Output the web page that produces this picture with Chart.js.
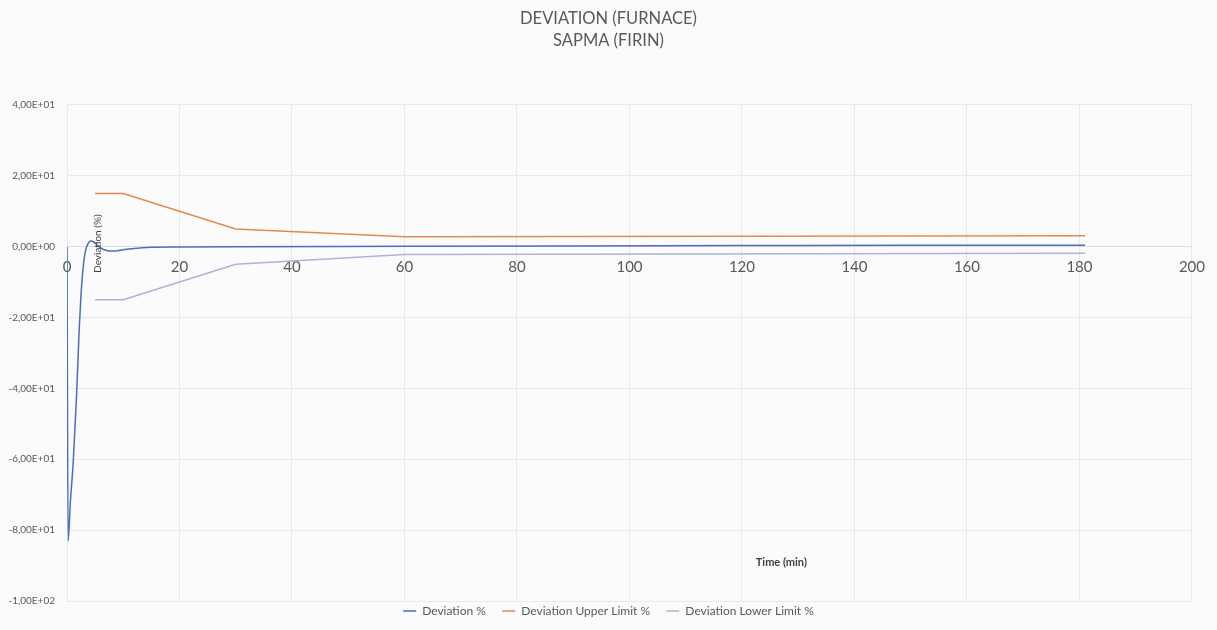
<!DOCTYPE html>
<html>
<head>
<meta charset="utf-8">
<script src="https://cdn.jsdelivr.net/npm/chart.js@4/dist/chart.umd.min.js"></script>
<style>
  html, body { margin: 0; padding: 0; background: #fbfbfc; }
  #wrap { width: 1217px; height: 630px; }
</style>
</head>
<body>
<div id="wrap"><canvas id="myChart" width="1217" height="630"></canvas></div>
<script>
// deviation curve (time in min, deviation in %)
const devTime  = [0, 0.2, 0.6, 1.1, 1.7, 2.1, 2.6, 3.0, 3.4, 3.8, 4.2, 4.8, 5.5, 6.5, 7.5, 8.5, 10, 12, 15, 20, 30, 60, 90, 120, 150, 181];
const devValue = [0, -83, -72, -61, -42, -26, -11, -4, -0.5, 1.0, 1.6, 1.3, 0.2, -0.8, -1.2, -1.2, -0.9, -0.5, -0.2, -0.1, 0, 0.1, 0.2, 0.3, 0.4, 0.4];

// limits
const limitTime  = [5, 10, 30, 60, 181];
const upperLimit = [15, 15, 5, 2.8, 3.1];
const lowerLimit = [-15, -15, -5, -2.2, -1.9];

const seriesNames = ["Deviation %", "Deviation Upper Limit %", "Deviation Lower Limit %"];
const titleLines = ["DEVIATION (FURNACE)", "SAPMA (FIRIN)"];
const yAxisTitle = "Deviation (%)";
const xAxisTitle = "Time (min)";

const FONT = "Lato, 'Open Sans', sans-serif";

function toPoints(xs, ys) {
    return xs.map((x, i) => ({ x: x, y: ys[i] }));
}

// 4,00E+01 style
function sciComma(v) {
    let parts = Number(v).toExponential(2).split("e");
    let m = parts[0].replace(".", ",");
    let e = parseInt(parts[1]);
    let sign = e < 0 ? "-" : "+";
    return m + "E" + sign + String(Math.abs(e)).padStart(2, "0");
}

const bgPlugin = {
    id: "bg",
    beforeDraw(chart) {
        const c = chart.ctx;
        c.save();
        c.fillStyle = "#fbfbfc";
        c.fillRect(0, 0, chart.width, chart.height);
        c.restore();
    }
};

// axis titles sit inside the plot in the original
const axisTitles = {
    id: "axisTitles",
    afterDraw(chart) {
        const c = chart.ctx;
        const xs = chart.scales.x, ys = chart.scales.y;
        c.save();
        c.fillStyle = "#404040";
        c.textAlign = "center";
        c.textBaseline = "middle";

        c.save();
        c.translate(xs.getPixelForValue(5.5), ys.getPixelForValue(0) - 3);
        c.rotate(-Math.PI / 2);
        c.font = "10px " + FONT;
        c.fillText(yAxisTitle, 0, 0);
        c.restore();

        c.font = "bold 11px " + FONT;
        c.fillText(xAxisTitle, xs.getPixelForValue(127), ys.getPixelForValue(-89));
        c.restore();
    }
};

const data = {
    datasets: [
        {
            label: seriesNames[0],
            data: toPoints(devTime, devValue),
            borderColor: "#4a6fbd",
            backgroundColor: "#4a6fbd",
            borderWidth: 1.5,
            pointRadius: 0,
            cubicInterpolationMode: "monotone"
        },
        {
            label: seriesNames[1],
            data: toPoints(limitTime, upperLimit),
            borderColor: "#e3894f",
            backgroundColor: "#e3894f",
            borderWidth: 1.5,
            pointRadius: 0
        },
        {
            label: seriesNames[2],
            data: toPoints(limitTime, lowerLimit),
            borderColor: "#aeb1d8",
            backgroundColor: "#aeb1d8",
            borderWidth: 1.5,
            pointRadius: 0
        }
    ]
};

const config = {
    type: "line",
    data: data,
    plugins: [bgPlugin, axisTitles],
    options: {
        responsive: false,
        animation: false,
        layout: { padding: { top: 0, bottom: 3, left: 0, right: 0 } },
        plugins: {
            title: {
                display: true,
                text: titleLines,
                color: "#595959",
                font: { family: FONT, size: 16.5, weight: "normal", lineHeight: 1.33 },
                padding: { top: 8, bottom: 53 }
            },
            legend: {
                position: "bottom",
                labels: {
                    color: "#595959",
                    font: { family: FONT, size: 12 },
                    usePointStyle: true,
                    pointStyle: "line",
                    pointStyleWidth: 13,
                    padding: 4,
                    generateLabels(chart) {
                        const items = Chart.defaults.plugins.legend.labels.generateLabels(chart);
                        items.forEach((it, i) => {
                            // extra gap between entries, none after the last one
                            if (i < items.length - 1) it.text = it.text + "    ";
                            it.lineWidth = 1.5;
                        });
                        return items;
                    }
                }
            },
            tooltip: { enabled: false }
        },
        scales: {
            x: {
                type: "linear",
                position: { y: 0 },
                min: 0,
                max: 200,
                ticks: {
                    stepSize: 20,
                    color: "#595959",
                    font: { family: FONT, size: 15 },
                    padding: 12,
                    maxRotation: 0
                },
                grid: { color: "#e9e9ec", drawTicks: false },
                border: { display: true, color: "#dedee2" }
            },
            y: {
                type: "linear",
                min: -100,
                max: 40,
                ticks: {
                    stepSize: 20,
                    color: "#595959",
                    font: { family: FONT, size: 10 },
                    padding: 12,
                    callback: v => sciComma(v)
                },
                grid: { color: "#e9e9ec", drawTicks: false },
                border: { display: false },
                afterFit: s => { s.width = 67; }
            }
        }
    }
};

const myChart = new Chart(document.getElementById("myChart"), config);
</script>
</body>
</html>
